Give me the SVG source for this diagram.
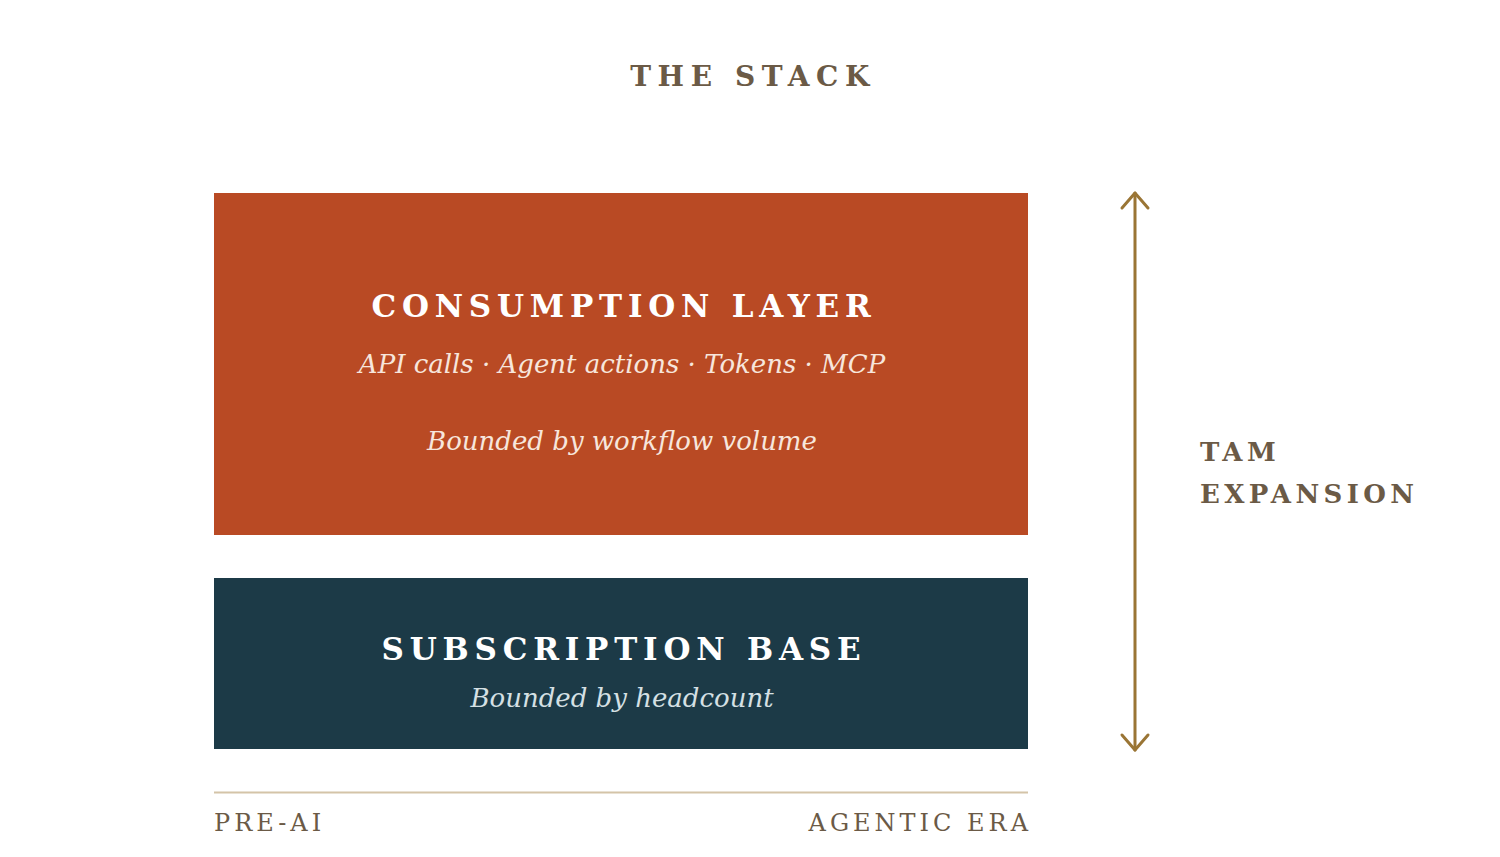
<svg xmlns="http://www.w3.org/2000/svg" width="1500" height="857" viewBox="0 0 1500 857">
  <defs>
    <style>
      .serif { font-family: "DejaVu Serif", "Liberation Serif", serif; }
      .title { font-size: 28px; font-weight: bold; fill: #6b5a46; letter-spacing: 6.6px; }
      .head { font-size: 31px; font-weight: bold; fill: #ffffff; letter-spacing: 5.8px; }
      .sub { font-size: 26px; font-style: italic; }
      .tam { font-size: 26px; font-weight: bold; fill: #6b5a46; letter-spacing: 4.4px; }
      .axis { font-size: 24px; fill: #6b5a46; letter-spacing: 4px; }
      .conn { fill: none; stroke: #9a7535; stroke-width: 3; stroke-linecap: round; stroke-linejoin: round; }
    </style>
  </defs>
  <rect width="1500" height="857" fill="#ffffff"/>
  <text class="serif title" x="753" y="86" text-anchor="middle">THE STACK</text>

  <g id="consumption-layer">
    <rect x="214" y="193" width="814" height="342" fill="#b94a24"/>
    <text class="serif head" x="624" y="317" text-anchor="middle">CONSUMPTION LAYER</text>
    <text class="serif sub" x="622" y="373" text-anchor="middle" fill="#f7e6dc">API calls · Agent actions · Tokens · MCP</text>
    <text class="serif sub" x="622" y="450" text-anchor="middle" fill="#f7e6dc">Bounded by workflow volume</text>
  </g>

  <g id="subscription-base">
    <rect x="214" y="578" width="814" height="171" fill="#1c3a47"/>
    <text class="serif head" x="624" y="660" text-anchor="middle">SUBSCRIPTION BASE</text>
    <text class="serif sub" x="622" y="707" text-anchor="middle" fill="#d5e0e4">Bounded by headcount</text>
  </g>

  <g id="connectors">
    <line class="conn" x1="1135" y1="193" x2="1135" y2="750"/>
    <path class="conn" d="M1122,208 L1135,193 L1148,208"/>
    <path class="conn" d="M1122,735 L1135,750 L1148,735"/>
  </g>

  <g id="tam-label">
    <text class="serif tam" x="1200" y="461">TAM</text>
    <text class="serif tam" x="1200" y="503">EXPANSION</text>
  </g>

  <g id="timeline">
    <line x1="214" y1="792.5" x2="1028" y2="792.5" stroke="#d4c4a8" stroke-width="2"/>
    <text class="serif axis" x="214" y="831">PRE-AI</text>
    <text class="serif axis" x="1032" y="831" text-anchor="end">AGENTIC ERA</text>
  </g>
</svg>
